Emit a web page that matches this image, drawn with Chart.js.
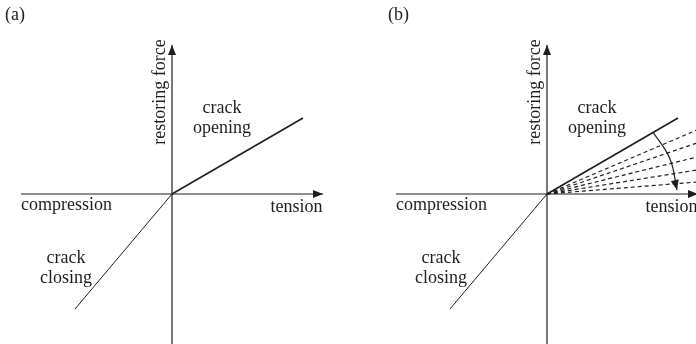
<!DOCTYPE html>
<html>
<head>
<meta charset="utf-8">
<script src="https://cdn.jsdelivr.net/npm/chart.js@4"></script>
<style>
  html, body { margin: 0; padding: 0; background: #fff; overflow: hidden; width: 696px; height: 344px; }
  .panel { position: absolute; top: 0; width: 348px; height: 344px; }
  .tag { position: absolute; top: 4px; font: 18px "Liberation Serif", "Times New Roman", serif; color: #222; line-height: 20px; }
</style>
</head>
<body>
<div class="panel" style="left:0"><canvas id="chartA" width="348" height="344"></canvas></div>
<div class="panel" style="left:375px"><canvas id="chartB" width="348" height="344"></canvas></div>
<span class="tag" style="left:5px">(a)</span>
<span class="tag" style="left:388px">(b)</span>
<script>
// Axis extents (strain horizontally, restoring force vertically)
const strainAxis = [-151, 151];
const forceAxis = [-160, 149];

// Bilinear law: stiff branch in compression, soft branch in tension
const openingEnd = [131, 76];
const closingEnd = [-97, -115];

// Reduced-stiffness tension branches, force reached at strain 150
const degradedStrain = 150;
const degradedForce = [64, 51, 37, 24, 12];

// Curved arrow showing the stiffness drop
const arcStrain = [106, 123, 130];
const arcForce = [62, 35, 4];

// Annotations
const labelText = ['crack', 'opening', 'crack', 'closing', 'compression', 'tension'];
const labelX = [50, 50, -106, -106, -105.5, 124.5];
const labelY = [86, 66, -64, -84, -11, -13];
const forceTitle = 'restoring force';
const forceTitlePos = [-12, 102];

const INK = '#1e1e1e';
const FONT = '18px "Liberation Serif", "Times New Roman", serif';

const pts = (xs, ys) => xs.map((x, i) => ({ x, y: ys[i] }));

function lineSet(data, extra) {
  return Object.assign({
    data,
    borderColor: INK,
    backgroundColor: INK,
    borderWidth: 1.2,
    pointRadius: 0,
    showLine: true,
    fill: false,
    tension: 0
  }, extra || {});
}

const arrowPlugin = {
  id: 'arrowHeads',
  afterDatasetsDraw(chart) {
    const ctx = chart.ctx;
    chart.data.datasets.forEach((ds, i) => {
      if (!ds.arrowHead) return;
      const els = chart.getDatasetMeta(i).data;
      const tip = els[els.length - 1];
      let fx, fy;
      if (tip.cp1x !== undefined && ds.tension > 0) { fx = tip.cp1x; fy = tip.cp1y; }
      else { fx = els[els.length - 2].x; fy = els[els.length - 2].y; }
      const ang = Math.atan2(tip.y - fy, tip.x - fx);
      const len = 10, half = 4;
      ctx.save();
      ctx.fillStyle = INK;
      ctx.beginPath();
      ctx.moveTo(tip.x, tip.y);
      ctx.lineTo(tip.x - len * Math.cos(ang) + half * Math.sin(ang), tip.y - len * Math.sin(ang) - half * Math.cos(ang));
      ctx.lineTo(tip.x - len * Math.cos(ang) - half * Math.sin(ang), tip.y - len * Math.sin(ang) + half * Math.cos(ang));
      ctx.closePath();
      ctx.fill();
      ctx.restore();
    });
  }
};

const labelPlugin = {
  id: 'labels',
  afterDraw(chart) {
    const ctx = chart.ctx, sx = chart.scales.x, sy = chart.scales.y;
    ctx.save();
    ctx.font = FONT;
    ctx.fillStyle = INK;
    ctx.textAlign = 'center';
    ctx.textBaseline = 'middle';
    labelText.forEach((t, i) => {
      ctx.fillText(t, sx.getPixelForValue(labelX[i]), sy.getPixelForValue(labelY[i]));
    });
    ctx.translate(sx.getPixelForValue(forceTitlePos[0]), sy.getPixelForValue(forceTitlePos[1]));
    ctx.rotate(-Math.PI / 2);
    ctx.fillText(forceTitle, 0, 0);
    ctx.restore();
  }
};

function buildChart(id, withDegradation) {
  const datasets = [
    lineSet(pts(strainAxis, [0, 0]), { arrowHead: true }),
    lineSet(pts([0, 0], forceAxis), { arrowHead: true }),
    lineSet(pts([0, openingEnd[0]], [0, openingEnd[1]]), { borderWidth: 1.6 }),
    lineSet(pts([0, closingEnd[0]], [0, closingEnd[1]]), { borderWidth: 1 })
  ];
  if (withDegradation) {
    degradedForce.forEach(f => {
      datasets.push(lineSet(pts([0, degradedStrain], [0, f]), { borderDash: [4, 3], borderWidth: 1.2 }));
    });
    datasets.push(lineSet(pts(arcStrain, arcForce), { tension: 0.4, arrowHead: true, borderWidth: 1.2 }));
  }
  return new Chart(document.getElementById(id), {
    type: 'scatter',
    data: { datasets },
    options: {
      responsive: false,
      animation: false,
      devicePixelRatio: 1,
      layout: { padding: 0 },
      plugins: { legend: { display: false }, tooltip: { enabled: false } },
      scales: {
        x: { type: 'linear', display: false, min: -172, max: 176 },
        y: { type: 'linear', display: false, min: -150, max: 194 }
      }
    },
    plugins: [arrowPlugin, labelPlugin]
  });
}

buildChart('chartA', false);
buildChart('chartB', true);
</script>
</body>
</html>
